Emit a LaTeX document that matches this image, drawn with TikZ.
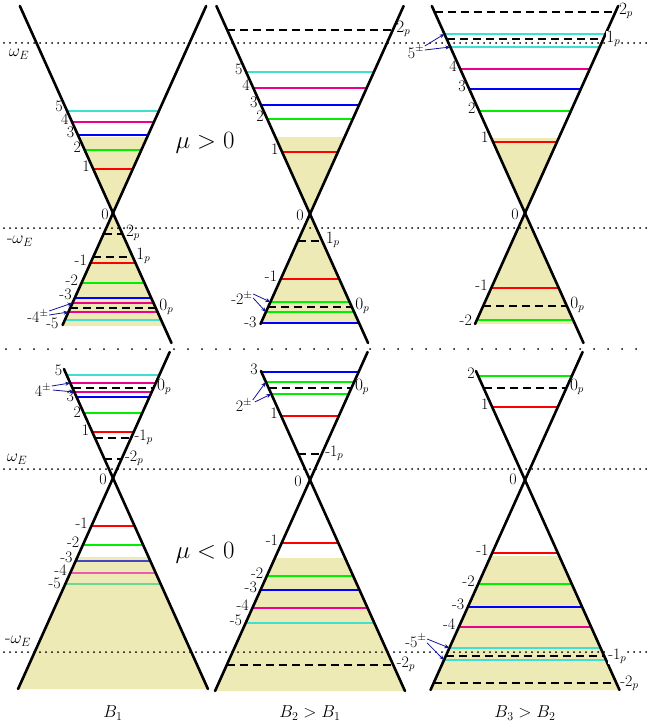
\documentclass[tikz,border=0pt]{standalone}
\usetikzlibrary{arrows.meta,calc}
\definecolor{fillc}{RGB}{237,234,182}
\definecolor{turq}{RGB}{64,224,208}
\definecolor{grn}{RGB}{0,238,0}
\definecolor{navyarr}{RGB}{20,20,150}
\definecolor{mblue}{RGB}{70,70,195}
\definecolor{mpink}{RGB}{232,90,180}
\definecolor{mgreen}{RGB}{110,215,150}
\tikzset{
  cone/.style={line width=2.6pt, line cap=round},
  lvl/.style={line width=2pt},
  dsh/.style={line width=2.6pt, dash pattern=on 8pt off 5pt},
  dots/.style={line width=2pt, line cap=round, dash pattern=on 0pt off 6pt},
  sdots/.style={line width=2pt, line cap=round, dash pattern=on 0pt off 14pt},
  lbl/.style={font=\fontsize{16}{19}\selectfont, inner sep=0.4pt},
  wlbl/.style={font=\fontsize{18}{21}\selectfont, inner sep=1pt},
  blbl/.style={font=\fontsize{18}{21}\selectfont, inner sep=1pt},
  mulbl/.style={font=\fontsize{26}{30}\selectfont, inner sep=1pt},
  arr/.style={-{Stealth[length=5pt,width=4pt]}, navyarr, line width=0.8pt},
  wbg/.style={fill=white},
}
\newcommand\mypan[2]{\def\pcx{#1}\def\pcy{#2}}
\newcommand\myhw[1]{\pgfmathsetmacro\hw{0.45*abs((#1)-\pcy)}}
\newcommand\mylev[2]{\myhw{#1}\draw[lvl,#2] ({\pcx-\hw},#1) -- ({\pcx+\hw},#1);}
\newcommand\mydash[1]{\myhw{#1}\draw[dsh] ({\pcx-\hw},#1) -- ({\pcx+\hw},#1);}
\newcommand\myL[3][]{\myhw{#2}\node[lbl,anchor=mid east,#1] at ({\pcx-\hw-3},#2) {#3};}
\newcommand\myR[3][]{\myhw{#2}\node[lbl,anchor=mid west,#1] at ({\pcx+\hw+3},#2) {#3};}
\newcommand\myE[2]{\myhw{#2}\coordinate (#1) at ({\pcx-\hw},#2);}
\newcommand\mycone[4]{%
  \draw[cone] ({\pcx-0.45*(\pcy-#1)},#1) -- ({\pcx+0.45*(#2-\pcy)},#2);
  \draw[cone] ({\pcx+0.45*(\pcy-#3)},#3) -- ({\pcx-0.45*(#4-\pcy)},#4);}
\newcommand\mytri[1]{\myhw{#1}\fill[fillc] ({\pcx-\hw},#1) -- ({\pcx+\hw},#1) -- (\pcx,\pcy) -- cycle;}
\newcommand\mytrap[2]{\myhw{#1}\let\hwa\hw\myhw{#2}%
  \fill[fillc] ({\pcx-\hwa},#1) -- ({\pcx+\hwa},#1) -- ({\pcx+\hw},#2) -- ({\pcx-\hw},#2) -- cycle;}
\begin{document}
\begin{tikzpicture}[x=1pt,y=-1pt]
\useasboundingbox (0,0) rectangle (649,725);
% ---------- fills
\mypan{113}{213}\mytri{137}\mytri{326}
\mypan{310}{214}\mytri{137}\mytri{324}
\mypan{525}{213}\mytri{138}\mytri{324}
\mypan{310}{480}\mytrap{558}{691}
\mypan{525}{480}\mytrap{556}{690}
\mypan{113}{478}\mytrap{557}{689}
% ---------- dotted lines
\draw[dots] (4,43) -- (649,43);
\draw[dots] (4,228) -- (649,228);
\draw[sdots] (6,349) -- (645,349);
\draw[dots] (4,469) -- (649,469);
\draw[dots] (4,652) -- (649,652);
\node[wlbl] (we1) at (19,54) {$\omega_E$};
\node[wlbl] (we2) at (20,241) {-$\omega_E$};
\node[wlbl] (we3) at (17,459) {$\omega_E$};
\node[wlbl] (we4) at (18,641) {-$\omega_E$};
% ---------- TL
\mypan{113}{213}
\mylev{111}{turq}\mylev{122}{magenta}\mylev{135}{blue}\mylev{150}{grn}\mylev{169}{red}
\mydash{234}\mydash{257}
\mylev{263}{red}\mylev{283}{grn}\mylev{298}{blue}\mylev{303}{magenta}\mydash{308}\mylev{312}{magenta}\mylev{320}{turq}
\mycone{6}{343}{6}{325}
\myL{109}{5}\myL{122}{4}\myL{135}{3}\myL{150}{2}\myL{169}{1}
\node[lbl] (tl0) at (105,214) {0};
\myR{234}{$2_p$}\myR{257}{$1_p$}\myR{308}{$0_p$}
\myL{263}{-1}\myL{283}{-2}\myL{297}{-3}\myL{326}{-5}
\node[lbl] (tl4) at (38,316) {-4$^\pm$};
\myE{tla}{303}\myE{tlb}{312}
\draw[arr] ($(tl4.east)+(0,-5)$) -- (tla);
\draw[arr] ($(tl4.east)+(0,-1)$) -- (tlb);
\node[mulbl] (mupos) at (205,143) {$\mu>0$};
% ---------- TM
\mypan{310}{214}
\mydash{30}\mylev{72}{turq}\mylev{88}{magenta}\mylev{105}{blue}\mylev{119}{grn}\mylev{152}{red}
\mydash{241}\mylev{279}{red}\mylev{302}{grn}\mydash{307}\mylev{312}{grn}\mylev{323}{blue}
\mycone{6}{343}{6}{324}
\myR{30}{$2_p$}\myL{72}{5}\myL{88}{4}\myL{105}{3}\myL{119}{2}\myL{152}{1}
\node[lbl] (tm0) at (300,215) {0};
\myR{241}{$1_p$}\myR{307}{$0_p$}\myL{279}{-1}\myL{325}{-3}
\node[lbl] (tm2) at (242,298) {-2$^\pm$};
\myE{tma}{302}\myE{tmb}{312}
\draw[arr] ($(tm2.east)+(0,-4)$) -- (tma);
\draw[arr] ($(tm2.east)+(0,0)$) -- (tmb);
% ---------- TR
\mypan{525}{213}
\mydash{12}\mylev{34}{turq}\mydash{39}\mylev{47}{turq}\mylev{69}{magenta}\mylev{89}{blue}\mylev{111}{grn}\mylev{142}{red}
\mylev{288}{red}\mydash{306}\mylev{320}{grn}
\mycone{6}{343}{6}{324}
\myR{12}{$2_p$}\myR[wbg]{40}{$1_p$}
\myL{69}{4}\myL{89}{3}\myL{111}{2}\myL{140}{1}
\node[lbl] (tr0) at (515,214) {0};
\myL{288}{-1}\myR{306}{$0_p$}\myL{323}{-2}
\node[lbl] (tr5) at (416,52) {5$^\pm$};
\myE{tra}{34}\myE{trb}{47}
\draw[arr] ($(tr5.east)+(0,-6)$) -- (tra);
\draw[arr] ($(tr5.east)+(0,-2)$) -- (trb);
% ---------- BL
\mypan{113}{478}
\mylev{375}{turq}\mylev{383}{magenta}\mydash{388}\mylev{392}{magenta}\mylev{397}{blue}\mylev{413}{grn}\mylev{432}{red}\mydash{438}\mydash{459}
\mylev{526}{red}\mylev{545}{grn}\mylev{561}{mblue}\mylev{573}{mpink}\mylev{584}{mgreen}
\mycone{369}{689}{352}{689}
\myL{373}{5}\myL{399}{3}\myL{415}{2}\myL{433}{1}
\myR{388}{$0_p$}\myR{438}{-1$_p$}\myR{459}{-2$_p$}
\node[lbl] (bl0) at (103,479) {0};
\myL{526}{-1}\myL{545}{-2}\myL{560}{-3}\myL{573}{-4}\myL{586}{-5}
\node[lbl] (bl4) at (43,390) {4$^\pm$};
\myE{bla}{383}\myE{blb}{392}
\draw[arr] ($(bl4.east)+(0,-4)$) -- (bla);
\draw[arr] ($(bl4.east)+(1,0)$) -- (blb);
\node[mulbl] (muneg) at (205,553) {$\mu<0$};
\node[blbl] (b1) at (113,713) {$B_1$};
% ---------- BM
\mypan{310}{480}
\mylev{372}{blue}\mylev{382}{grn}\mydash{388}\mylev{394}{grn}\mylev{416}{red}\mydash{454}
\mylev{543}{red}\mylev{576}{grn}\mylev{590}{blue}\mylev{608}{magenta}\mylev{623}{turq}\mydash{665}
\mycone{371}{691}{352}{691}
\myL{372}{3}\myL{416}{1}\myR{388}{$0_p$}\myR{454}{-1$_p$}
\node[lbl] (bm0) at (298,481) {0};
\myL{543}{-1}\myL{576}{-2}\myL{590}{-3}\myL{608}{-4}\myL{623}{-5}\myR{665}{-2$_p$}
\node[lbl] (bm2) at (244,405) {2$^\pm$};
\myE{bma}{382}\myE{bmb}{394}
\draw[arr] ($(bm2.east)+(0,-5)$) -- (bma);
\draw[arr] ($(bm2.east)+(2,-3)$) -- (bmb);
\node[blbl] (b2) at (310,713) {$B_2>B_1$};
% ---------- BR
\mypan{525}{480}
\mylev{376}{grn}\mydash{388}\mylev{407}{red}
\mylev{553}{red}\mylev{584}{grn}\mylev{607}{blue}\mylev{627}{magenta}\mylev{648}{turq}\mydash{656}\mylev{660}{turq}\mydash{683}
\mycone{371}{690}{352}{690}
\myL{376}{2}\myL{407}{1}\myR{388}{$0_p$}
\node[lbl] (br0) at (513,479) {0};
\myL{553}{-1}\myL{584}{-2}\myL{607}{-3}\myL{627}{-4}
\myR[wbg]{657}{-1$_p$}\myR{684}{-2$_p$}
\node[lbl] (br5) at (416,641) {-5$^\pm$};
\myE{bra}{648}\myE{brb}{660}
\draw[arr] ($(br5.east)+(0,-2)$) -- (bra);
\draw[arr] ($(br5.east)+(0,2)$) -- (brb);
\node[blbl] (b3) at (525,713) {$B_3>B_2$};
\end{tikzpicture}
\end{document}
